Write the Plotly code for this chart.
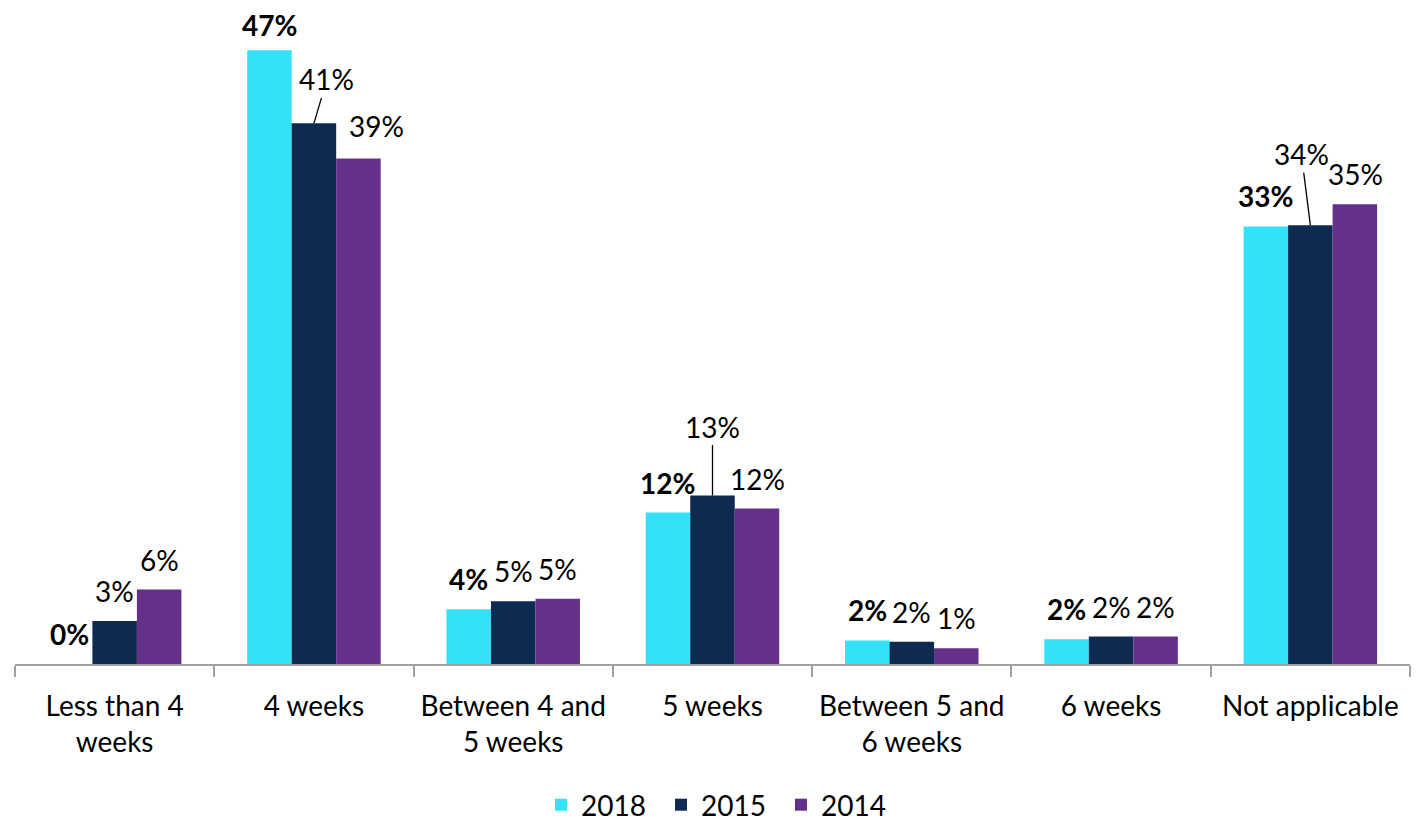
import plotly.graph_objects as go

categories = ["Less than 4<br>weeks", "4 weeks", "Between 4 and<br>5 weeks", "5 weeks",
              "Between 5 and<br>6 weeks", "6 weeks", "Not applicable"]
series_names = ["2018", "2015", "2014"]
v2018 = [0.0, 47.0, 4.2, 11.6, 1.8, 1.9, 33.5]
v2015 = [3.3, 41.4, 4.8, 12.9, 1.7, 2.1, 33.6]
v2014 = [5.7, 38.7, 5.0, 11.9, 1.2, 2.1, 35.2]
lab2018 = ["0%", "47%", "4%", "12%", "2%", "2%", "33%"]
lab2015 = ["3%", "41%", "5%", "13%", "2%", "2%", "34%"]
lab2014 = ["6%", "39%", "5%", "12%", "1%", "2%", "35%"]

colors = ["#33e2f8", "#0e2a50", "#65308a"]
FONT = "Lato"
FS = 28

fig = go.Figure()
for name, vals, col in zip(series_names, [v2018, v2015, v2014], colors):
    fig.add_trace(go.Bar(x=categories, y=vals, name=name, marker=dict(color=col, line=dict(width=0))))

bw = 44.7  # px offset between grouped bars
anns = []
leader = {1: (13, -44), 3: (0, -69), 6: (-9, -71)}
extra_shift = {(2, 1): (18, -3), (0, 1): (0, 5)}
for si, (vals, labs) in enumerate(zip([v2018, v2015, v2014], [lab2018, lab2015, lab2014])):
    for ci, (cat, v, lab) in enumerate(zip(categories, vals, labs)):
        xs = (si - 1) * bw
        txt = f"<b>{lab}</b>" if si == 0 else lab
        if si == 1 and ci in leader:
            ax, ay = leader[ci]
            anns.append(dict(x=cat, y=v, xshift=xs, text=txt, showarrow=True, arrowhead=0,
                             arrowwidth=1.3, arrowcolor="#000000", ax=ax, ay=ay, standoff=0,
                             font=dict(family=FONT, size=FS, color="#000000")))
        else:
            dx, dy = extra_shift.get((si, ci), (0, 0))
            anns.append(dict(x=cat, y=v, xshift=xs + dx, yshift=30 - dy, text=txt, showarrow=False,
                             yanchor="middle", xanchor="center",
                             font=dict(family=FONT, size=FS, color="#000000")))

fig.update_layout(
    width=1426, height=822,
    margin=dict(l=7, r=24, t=3, b=166, autoexpand=False),
    paper_bgcolor="white", plot_bgcolor="white",
    barmode="group", bargap=0.33, bargroupgap=0,
    font=dict(family=FONT, size=FS, color="#000000"),
    annotations=anns,
    legend=dict(orientation="h", x=0.5, xanchor="center", xref="container",
                y=1 - 797 / 822, yanchor="middle", yref="container",
                font=dict(family=FONT, size=FS), itemwidth=30, traceorder="normal",
                entrywidth=75, entrywidthmode="pixels"),
    xaxis=dict(showline=True, linecolor="#a0a0a0", linewidth=2, ticks="outside",
               tickson="boundaries", ticklen=11, tickcolor="#a0a0a0", tickwidth=2,
               ticklabelstandoff=16, automargin=False,
               tickfont=dict(family=FONT, size=FS, color="#000000"), showgrid=False),
    yaxis=dict(range=[0, 50], visible=False, showgrid=False, zeroline=False),
)

fig.write_html("out.html")
